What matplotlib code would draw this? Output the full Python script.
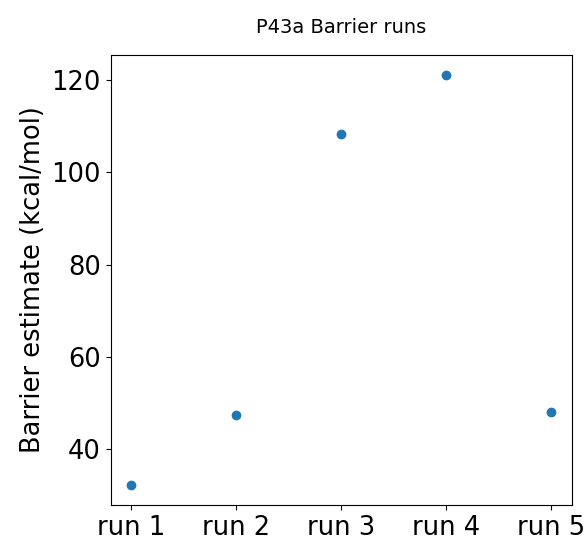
import matplotlib
matplotlib.use("Agg")
import matplotlib.pyplot as plt

runs = ["run 1", "run 2", "run 3", "run 4", "run 5"]
barrier_kcal = [32.4, 47.5, 108.3, 120.9, 48.1]


def main():
    fig = plt.figure(figsize=(5.86, 5.39), dpi=100)
    ax = fig.add_axes([0.1886, 0.063, 0.7874, 0.835])

    ax.scatter(range(len(runs)), barrier_kcal, s=36, color="#1f77b4")
    ax.set_xticks(range(len(runs)))
    ax.set_xticklabels(runs)
    ax.tick_params(labelsize=18.5)
    ax.set_ylabel("Barrier estimate (kcal/mol)", fontsize=18.5)
    ax.set_title("P43a Barrier runs", fontsize=14, pad=16)

    fig.savefig("out.png", dpi=100)
    plt.close(fig)


if __name__ == "__main__":
    main()
